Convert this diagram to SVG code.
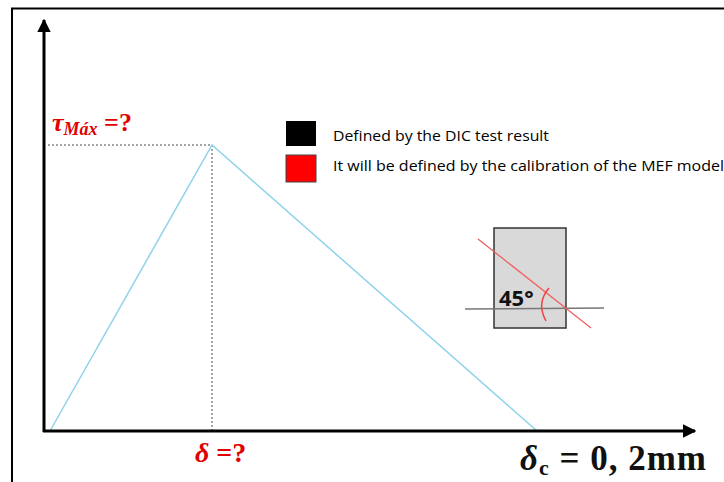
<svg xmlns="http://www.w3.org/2000/svg" width="724" height="482" viewBox="0 0 724 482">
<style>
.axis{stroke:#000;stroke-width:3;fill:none}
.dot{stroke:#888;stroke-width:1.5;stroke-dasharray:2 2;fill:none}
.curve{stroke:#8fd3ea;stroke-width:1.5;fill:none}
.lbl{font-family:"Liberation Serif",serif;font-weight:bold;font-style:italic;fill:#e00000}
.leg{font-family:"Open Sans","Liberation Sans",sans-serif;font-size:15px;fill:#000}
</style>
<defs>
<marker id="ah" viewBox="0 0 10 10" refX="9" refY="5" markerWidth="4.5" markerHeight="4.5" orient="auto" markerUnits="strokeWidth">
<path d="M0,0 L10,5 L0,10 z" fill="#000"/>
</marker>
</defs>
<rect width="724" height="482" fill="#fff"/>
<path d="M12,482 V8.5 H724" stroke="#000" stroke-width="2" fill="none"/>
<g id="connectors">
<path class="dot" d="M48,145 H212 V431"/>
<path class="curve" d="M50,431 L212,145 L537,431"/>
<line class="axis" x1="44" y1="432" x2="44" y2="20" marker-end="url(#ah)"/>
<line class="axis" x1="43" y1="431" x2="695" y2="431" marker-end="url(#ah)"/>
</g>
<g id="tau-label"><text class="lbl" x="52" y="131" font-size="26">τ<tspan font-size="18" dy="4">Máx</tspan><tspan dy="-4" font-style="normal"> =?</tspan></text></g>
<g id="delta-label"><text class="lbl" x="195" y="462" font-size="28">δ<tspan font-style="normal"> =?</tspan></text></g>
<g id="deltac-label"><text x="520" y="470" font-family="Liberation Serif,serif" font-weight="bold" font-size="35" fill="#111" textLength="186" lengthAdjust="spacing"><tspan font-style="italic">δ</tspan><tspan font-size="22" dy="5">c</tspan><tspan dy="-5"> = 0, 2mm</tspan></text></g>
<g id="legend">
<rect x="286" y="121" width="30" height="25" fill="#000"/>
<text class="leg" x="333" y="141" textLength="216" lengthAdjust="spacingAndGlyphs">Defined by the DIC test result</text>
<rect x="286" y="155" width="30" height="27" fill="#ff0000" stroke="#444" stroke-width="1"/>
<text class="leg" x="333" y="171" textLength="391" lengthAdjust="spacingAndGlyphs">It will be defined by the calibration of the MEF model</text>
</g>
<g id="specimen">
<rect x="494" y="228" width="72" height="100" fill="#d9d9d9" stroke="#333" stroke-width="1.5"/>
<line x1="465" y1="309" x2="604" y2="308" stroke="#777" stroke-width="1.5"/>
<line x1="478" y1="239" x2="591" y2="328" stroke="#f06060" stroke-width="1.3"/>
<path d="M549,288 Q536,303 546,321" stroke="#f04040" stroke-width="1.5" fill="none"/>
<text x="499" y="306" font-family="Open Sans,Liberation Sans,sans-serif" font-weight="bold" font-size="22" fill="#111">45°</text>
</g>
</svg>
